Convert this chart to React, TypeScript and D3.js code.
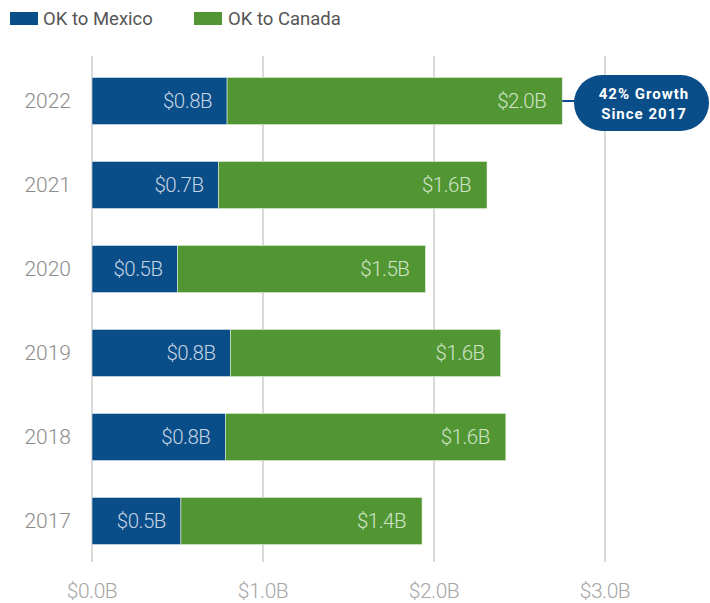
import React from "react";
import * as d3 from "d3";

const years = ["2022", "2021", "2020", "2019", "2018", "2017"];
const mexico = [0.79, 0.74, 0.5, 0.81, 0.78, 0.52];
const canada = [1.96, 1.57, 1.45, 1.58, 1.64, 1.41];
const mexicoLabels = ["$0.8B", "$0.7B", "$0.5B", "$0.8B", "$0.8B", "$0.5B"];
const canadaLabels = ["$2.0B", "$1.6B", "$1.5B", "$1.6B", "$1.6B", "$1.4B"];
const ticks = [0, 1, 2, 3];
const tickLabels = ["$0.0B", "$1.0B", "$2.0B", "$3.0B"];
const seriesNames = ["OK to Mexico", "OK to Canada"];
const calloutLines = ["42% Growth", "Since 2017"];

const BLUE = "#094e88";
const GREEN = "#529634";

export default function App() {
  const W = 710, H = 603;
  const x = d3.scaleLinear().domain([0, 3]).range([92, 605]);
  const y = d3.scaleBand().domain(years).range([59, 563]).paddingInner(0.44).paddingOuter(0.22);
  const bw = y.bandwidth();
  const font = "Roboto, sans-serif";
  const top = y(years[0])! + bw / 2;
  const endTop = x(mexico[0] + canada[0]);
  return (
    <svg width={W} height={H} style={{ position: "absolute", left: 0, top: 0 }} fontFamily={font}>
      {ticks.map((t, i) => (
        <g key={t}>
          <line x1={x(t)} x2={x(t)} y1={56} y2={562} stroke="#d9d9d9" strokeWidth={2} />
          <text x={x(t)} y={598} textAnchor="middle" fontSize={21} fontWeight={300} fill="#a6a6a6" letterSpacing={-0.5}>{tickLabels[i]}</text>
        </g>
      ))}
      {years.map((yr, i) => {
        const yy = y(yr)!;
        const m = mexico[i], c = canada[i];
        return (
          <g key={yr}>
            <text x={71} y={yy + bw / 2} dy="0.35em" textAnchor="end" fontSize={21} fontWeight={300} fill="#8c8c8c">{yr}</text>
            <rect x={x(0)} y={yy} width={x(m) - x(0)} height={bw} fill={BLUE} stroke="#dfe6ee" strokeWidth={0.6} />
            <rect x={x(m)} y={yy} width={x(m + c) - x(m)} height={bw} fill={GREEN} stroke="#e3eedd" strokeWidth={0.6} />
            <text x={x(m) - 15} y={yy + bw / 2} dy="0.35em" textAnchor="end" fontSize={20.5} fontWeight={300} fill="#c6d3e3" letterSpacing={-0.5}>{mexicoLabels[i]}</text>
            <text x={x(m + c) - 16} y={yy + bw / 2} dy="0.35em" textAnchor="end" fontSize={20.5} fontWeight={300} fill="#cfe3c6" letterSpacing={-0.5}>{canadaLabels[i]}</text>
          </g>
        );
      })}
      <line x1={endTop} x2={578} y1={top} y2={top} stroke={BLUE} strokeWidth={2} />
      <rect x={574} y={75} width={135} height={56} rx={28} fill={BLUE} />
      {calloutLines.map((l, i) => (
        <text key={l} x={644} y={98.5 + i * 20} textAnchor="middle" fontSize={15} fontWeight={700} fill="#fff" letterSpacing={1}>{l}</text>
      ))}
      <rect x={10} y={12} width={28} height={13} fill={BLUE} />
      <text x={43} y={25} fontSize={18.5} fill="#555">{seriesNames[0]}</text>
      <rect x={194} y={12} width={28} height={13} fill={GREEN} />
      <text x={228} y={25} fontSize={18.5} fill="#555">{seriesNames[1]}</text>
    </svg>
  );
}
